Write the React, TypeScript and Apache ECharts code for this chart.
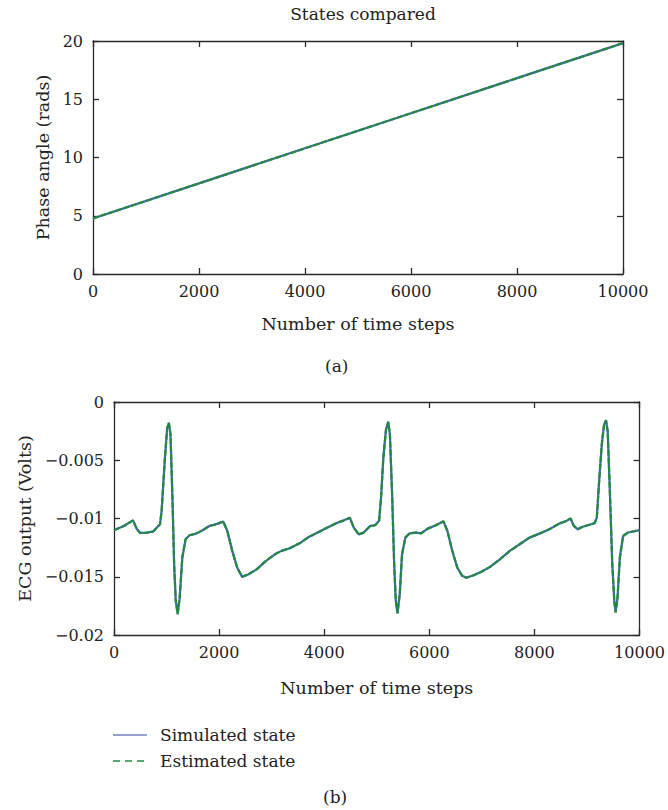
import React, { useEffect, useRef } from "react";
import * as echarts from "echarts";

// ---- Data ----
const phaseSteps = [0, 2000, 4000, 6000, 8000, 10000];
const phaseSimulated = [4.77, 7.78, 10.79, 13.8, 16.81, 19.82];
const phaseEstimated = [4.77, 7.78, 10.79, 13.8, 16.81, 19.82];

const ecgSteps = [
  0, 187, 362, 437, 500, 625, 750, 875, 906, 969, 1012, 1044, 1075, 1112, 1144, 1175, 1212, 1250, 1300,
  1362, 1437, 1562, 1687, 1812, 1937, 2081, 2156, 2250, 2344, 2437, 2562, 2719, 2875, 3062, 3187, 3344,
  3531, 3687, 3875, 4062, 4250, 4375, 4487, 4562, 4656, 4750, 4875, 4969, 5044, 5081, 5125, 5175, 5219,
  5250, 5294, 5331, 5362, 5394, 5437, 5481, 5544, 5625, 5750, 5844, 5969, 6125, 6269, 6344, 6437, 6531,
  6625, 6706, 6844, 7000, 7156, 7344, 7531, 7719, 7906, 8094, 8281, 8469, 8606, 8687, 8750, 8825, 8906,
  9031, 9144, 9187, 9231, 9281, 9325, 9362, 9394, 9437, 9481, 9519, 9544, 9581, 9625, 9687, 9781, 10000,
];
const ecgSimulated = [
  -0.011, -0.01064, -0.01016, -0.01093, -0.01124, -0.01121, -0.0111, -0.0105, -0.00936, -0.00479,
  -0.00223, -0.0018, -0.0028, -0.00822, -0.01392, -0.01706, -0.0182, -0.01678, -0.01335, -0.01178,
  -0.01144, -0.0113, -0.01101, -0.01064, -0.0105, -0.01027, -0.01107, -0.01278, -0.01421, -0.01501,
  -0.01478, -0.01435, -0.0137, -0.01307, -0.01278, -0.01255, -0.01213, -0.01164, -0.01121, -0.01078,
  -0.01036, -0.01016, -0.00993, -0.01078, -0.01136, -0.01121, -0.01064, -0.01058, -0.0102, -0.00822,
  -0.00479, -0.00237, -0.00171, -0.0028, -0.00822, -0.01392, -0.01706, -0.01814, -0.01649, -0.01307,
  -0.01164, -0.01127, -0.01121, -0.01127, -0.01087, -0.01058, -0.01024, -0.01107, -0.01278, -0.01421,
  -0.01492, -0.01509, -0.01487, -0.01455, -0.01415, -0.0135, -0.01278, -0.01221, -0.01164, -0.0113,
  -0.01093, -0.01044, -0.01021, -0.00999, -0.01064, -0.01093, -0.01073, -0.01056, -0.01041, -0.00993,
  -0.00679, -0.00365, -0.00194, -0.00157, -0.00251, -0.00793, -0.01392, -0.01706, -0.01806, -0.01678,
  -0.01335, -0.0115, -0.0112, -0.011,
];
const ecgEstimated = ecgSimulated.slice();

const xTicks = [0, 2000, 4000, 6000, 8000, 10000];
const phaseTicks = [0, 5, 10, 15, 20];
const ecgTicks = [-0.02, -0.015, -0.01, -0.005, 0];

const legendLabels = ["Simulated state", "Estimated state"];
const chartTitle = "States compared";

const FONT = "DejaVu Serif";
const TXT = "#222";
const AX = "#2a2a2a";
const BLUE = "#4a62b8";
const GREEN = "#1e8c3a";

function fmtEcg(v: number) {
  if (Math.abs(v) < 1e-12) return "0";
  return "\u2212" + String(Number(Math.abs(v).toFixed(3)));
}

export default function App() {
  const ref = useRef<HTMLDivElement>(null);
  useEffect(() => {
    if (!ref.current) return;
    const chart = echarts.init(ref.current, undefined, { renderer: "svg" });
    const tickLabel = { fontFamily: FONT, fontSize: 16, color: TXT };
    const nameStyle = { fontFamily: FONT, fontSize: 17.5, color: TXT };
    const axisLine = { show: true, onZero: false, lineStyle: { color: AX, width: 1.3 } };
    const axisTick = { show: true, inside: true, length: 6, lineStyle: { color: AX, width: 1.3 } };

    const mainX = (gi: number, name: string, gap: number) => ({
      type: "value",
      gridIndex: gi,
      min: 0,
      max: 10000,
      interval: 2000,
      name,
      nameLocation: "middle",
      nameGap: gap,
      nameTextStyle: nameStyle,
      axisLine,
      axisTick,
      splitLine: { show: false },
      axisLabel: { ...tickLabel, margin: 9, formatter: (v: number) => (xTicks.includes(v) ? String(v) : "") },
    });
    const mirrorX = (gi: number) => ({
      type: "value",
      gridIndex: gi,
      position: "top",
      min: 0,
      max: 10000,
      interval: 2000,
      axisLine,
      axisTick,
      splitLine: { show: false },
      axisLabel: { show: false },
    });

    const option: any = {
      animation: false,
      backgroundColor: "#fff",
      title: {
        text: chartTitle,
        left: 358,
        textAlign: "center",
        top: 0,
        textStyle: { fontFamily: FONT, fontSize: 17, fontWeight: "normal", color: TXT },
      },
      grid: [
        { left: 93, top: 41, width: 530, height: 233 },
        { left: 114, top: 402, width: 530, height: 233 },
      ],
      xAxis: [
        mainX(0, "Number of time steps", 41),
        mirrorX(0),
        mainX(1, "Number of time steps", 44),
        mirrorX(1),
      ],
      yAxis: [
        {
          type: "value",
          gridIndex: 0,
          min: 0,
          max: 20,
          interval: 5,
          name: "Phase angle (rads)",
          nameLocation: "middle",
          nameGap: 40,
          nameTextStyle: nameStyle,
          axisLine,
          axisTick,
          splitLine: { show: false },
          axisLabel: { ...tickLabel, margin: 10, formatter: (v: number) => (phaseTicks.includes(v) ? String(v) : "") },
        },
        {
          type: "value",
          gridIndex: 0,
          position: "right",
          min: 0,
          max: 20,
          interval: 5,
          axisLine,
          axisTick,
          splitLine: { show: false },
          axisLabel: { show: false },
        },
        {
          type: "value",
          gridIndex: 1,
          min: -0.02,
          max: 0,
          interval: 0.005,
          name: "ECG output (Volts)",
          nameLocation: "middle",
          nameGap: 78,
          nameTextStyle: nameStyle,
          axisLine,
          axisTick,
          splitLine: { show: false },
          axisLabel: {
            ...tickLabel,
            margin: 10,
            formatter: (v: number) => (ecgTicks.some((t) => Math.abs(t - v) < 1e-9) ? fmtEcg(v) : ""),
          },
        },
        {
          type: "value",
          gridIndex: 1,
          position: "right",
          min: -0.02,
          max: 0,
          interval: 0.005,
          axisLine,
          axisTick,
          splitLine: { show: false },
          axisLabel: { show: false },
        },
      ],
      series: [
        {
          name: legendLabels[0],
          type: "line",
          xAxisIndex: 0,
          yAxisIndex: 0,
          data: phaseSteps.map((t, i) => [t, phaseSimulated[i]]),
          showSymbol: false,
          lineStyle: { color: BLUE, width: 2.2 },
        },
        {
          name: legendLabels[1],
          type: "line",
          xAxisIndex: 0,
          yAxisIndex: 0,
          data: phaseSteps.map((t, i) => [t, phaseEstimated[i]]),
          showSymbol: false,
          lineStyle: { color: GREEN, width: 2.2, type: [6, 2] },
        },
        {
          name: legendLabels[0],
          type: "line",
          xAxisIndex: 2,
          yAxisIndex: 2,
          data: ecgSteps.map((t, i) => [t, ecgSimulated[i]]),
          showSymbol: false,
          lineStyle: { color: BLUE, width: 2.2 },
        },
        {
          name: legendLabels[1],
          type: "line",
          xAxisIndex: 2,
          yAxisIndex: 2,
          data: ecgSteps.map((t, i) => [t, ecgEstimated[i]]),
          showSymbol: false,
          lineStyle: { color: GREEN, width: 2.2, type: [6, 2] },
        },
      ],
      graphic: [
        {
          type: "text",
          left: 325,
          top: 357,
          style: { text: "(a)", font: `17px "${FONT}"`, fill: TXT },
        },
        {
          type: "line",
          shape: { x1: 113, y1: 735, x2: 147, y2: 735 },
          style: { stroke: "#6f80c6", lineWidth: 1.5 },
        },
        {
          type: "text",
          x: 160,
          y: 735,
          style: { text: legendLabels[0], font: `17px "${FONT}"`, fill: TXT, verticalAlign: "middle" },
        },
        {
          type: "line",
          shape: { x1: 113, y1: 761, x2: 147, y2: 761 },
          style: { stroke: GREEN, lineWidth: 1.5, lineDash: [7, 5] },
        },
        {
          type: "text",
          x: 160,
          y: 761,
          style: { text: legendLabels[1], font: `17px "${FONT}"`, fill: TXT, verticalAlign: "middle" },
        },
        {
          type: "text",
          left: 323,
          top: 788,
          style: { text: "(b)", font: `17px "${FONT}"`, fill: TXT },
        },
      ],
    };
    chart.setOption(option);
    return () => chart.dispose();
  }, []);
  return (
    <div
      ref={ref}
      style={{ position: "absolute", left: 0, top: 0, width: 668, height: 810, background: "#fff" }}
    />
  );
}
